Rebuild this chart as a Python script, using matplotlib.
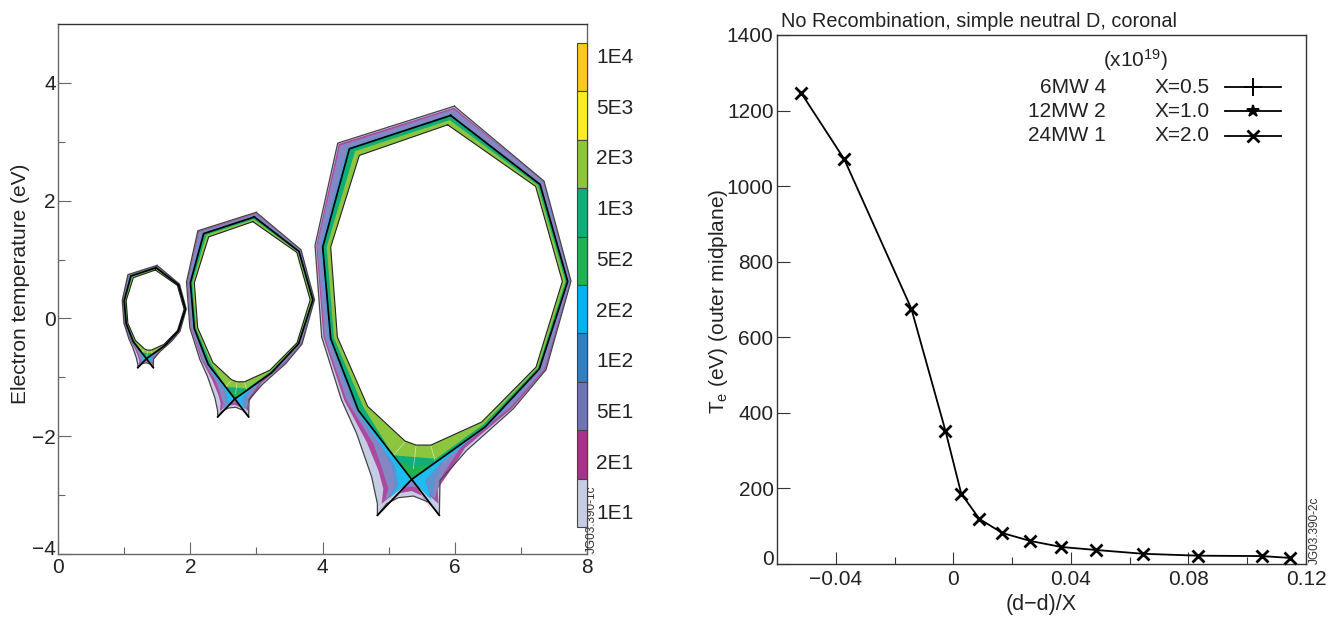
import numpy as np
import matplotlib
matplotlib.use('Agg')
import matplotlib.pyplot as plt
from matplotlib.transforms import ScaledTranslation

plt.rcParams['font.family'] = ['Liberation Sans', 'DejaVu Sans']
plt.rcParams['mathtext.default'] = 'regular'

# colour scale
levels = ['1E4', '5E3', '2E3', '1E3', '5E2', '2E2', '1E2', '5E1', '2E1', '1E1']
level_colors = ['#fdc91d', '#fcec21', '#8cc63f', '#10ad78', '#22b14f',
                '#00b5ec', '#2f80c2', '#6f74b8', '#a5328f', '#c6cce4']

# machine sizes, relative to the X=2 case
ring_sizes = [0.25, 0.5, 1.0]

# contours of the X=2 case (R, Z)
x_point = (5.349, -2.733)
leg_right = (5.767, -3.344)
leg_left = (4.830, -3.344)

c_outer = [(5.994, 3.605), (7.350, 2.332), (7.758, 0.634), (7.380, -0.871), (6.886, -1.533),
           (6.180, -2.241), (6.004, -2.467), (5.777, -2.750), leg_right, (5.601, -3.118),
           (5.374, -3.016), (5.147, -3.044), (4.971, -3.146), leg_left, (4.830, -3.146),
           (4.744, -2.693), (4.517, -1.958), (4.290, -1.392), (3.988, -0.316), (3.887, 1.240),
           (4.230, 2.977)]
c_purple = [(5.989, 3.580), (7.347, 2.330), (7.755, 0.634), (7.372, -0.868), (6.871, -1.522),
            (6.155, -2.201), (5.954, -2.552), (5.742, -2.891), (5.752, -3.146), x_point,
            (4.895, -3.146), (4.920, -2.891), (4.845, -2.580), (4.668, -2.099), (4.330, -1.392),
            (4.013, -0.316), (3.905, 1.240), (4.245, 2.962)]
c_slate = [(5.984, 3.553), (7.345, 2.328), (7.750, 0.634), (7.355, -0.860), (6.846, -1.505),
           (6.105, -2.167), (5.828, -2.637), (5.727, -2.919), (5.702, -3.060), x_point,
           (4.945, -3.090), (4.996, -2.891), (4.895, -2.524), (4.769, -2.127), (4.366, -1.392),
           (4.033, -0.316), (3.920, 1.240), (4.265, 2.935)]
c_blue = [(5.945, 3.470), (7.295, 2.285), (7.715, 0.629), (7.292, -0.858), (6.500, -1.844),
          (5.860, -2.325), (5.700, -2.750), (5.676, -3.033), x_point, (5.000, -3.061),
          (5.090, -2.863), (5.050, -2.524), (4.845, -2.099), (4.480, -1.500), (4.088, -0.328),
          (3.973, 1.228), (4.366, 2.895)]
c_cyan = [(5.940, 3.460), (7.292, 2.280), (7.711, 0.629), (7.285, -0.854), (6.470, -1.844),
          (5.777, -2.467), (5.550, -2.750), (5.651, -3.089), x_point, (5.021, -3.033),
          (5.147, -2.835), (5.097, -2.496), (4.550, -1.630), (4.104, -0.345), (3.985, 1.211),
          (4.385, 2.888)]
c_sep = [(5.939, 3.447), (7.290, 2.276), (7.708, 0.629), (7.280, -0.854), (6.458, -1.844),
         x_point, (4.542, -1.561), (4.124, -0.345), (4.003, 1.211), (4.406, 2.881)]
c_green = [x_point, (5.666, -2.478), (5.399, -2.523), (5.157, -2.456)]
c_teal = [(5.923, 3.368), (7.254, 2.264), (7.673, 0.629), (7.259, -0.837), (6.433, -1.799),
          (5.717, -2.382), (5.399, -2.354), (5.071, -2.325), (4.618, -1.505), (4.174, -0.328),
          (4.063, 1.211), (4.492, 2.841)]
c_inner = [(5.893, 3.288), (7.224, 2.241), (7.627, 0.629), (7.229, -0.826), (6.407, -1.759),
           (5.641, -2.150), (5.414, -2.150), (5.248, -2.082), (4.683, -1.493), (4.225, -0.316),
           (4.124, 1.211), (4.557, 2.768)]
c_private = [x_point, leg_right, (5.601, -3.118), (5.374, -3.016), (5.147, -3.044), (4.971, -3.146), leg_left]
c_private_purple = [x_point, (5.651, -3.259), (5.525, -3.021), (5.349, -2.931), (5.172, -2.965), (4.981, -3.174)]
c_private_slate = [x_point, (5.500, -2.891), (5.349, -2.852), (5.198, -2.874)]
mesh_lines = [[(5.414, -2.173), (5.374, -2.552)], [(5.641, -2.173), (5.702, -2.410)],
              [(5.248, -2.099), (5.071, -2.325)]]

# outer midplane profile
dd = [-0.0518, -0.0371, -0.0143, -0.0027, 0.0027, 0.0089, 0.0167, 0.0262,
      0.0368, 0.0487, 0.0647, 0.0834, 0.1049, 0.1147]
te = [1247, 1071, 676, 353, 186, 119, 82, 61, 45, 37, 27, 22, 21, 16]

legend_power = ['6MW 4', '12MW 2', '24MW 1']
legend_x = ['X=0.5', 'X=1.0', 'X=2.0']
legend_markers = ['+', '*', 'x']

W, H = 1337, 619
fig = plt.figure(figsize=(W / 100, H / 100), dpi=100)
ax1 = fig.add_axes([58 / W, (H - 554) / H, 529 / W, 530 / H])
ax2 = fig.add_axes([777 / W, (H - 564) / H, 529 / W, 529 / H])
TXT = '#222222'
SLATE = '#8487c3'


def fill_contour(ax, contour, size, color, z, **kw):
    pts = np.array(contour) * size
    ax.fill(pts[:, 0], pts[:, 1], color=color, zorder=z, **kw)


# left panel: the three rings
for size in ring_sizes:
    fill_contour(ax1, c_outer, size, level_colors[9], 2, lw=0)
    fill_contour(ax1, c_purple, size, '#ad4a9f', 3, lw=0)
    fill_contour(ax1, c_slate, size, SLATE, 4, lw=0)
    fill_contour(ax1, c_blue, size, '#5c93d0', 5, lw=0)
    fill_contour(ax1, c_cyan, size, '#1fbcf0', 6, lw=0)
    fill_contour(ax1, c_private, size, level_colors[9], 7, lw=0)
    fill_contour(ax1, c_private_purple, size, '#ad4a9f', 8, lw=0)
    fill_contour(ax1, c_private_slate, size, SLATE, 9, lw=0)
    fill_contour(ax1, c_sep, size, level_colors[3], 10, lw=0)
    fill_contour(ax1, c_green, size, level_colors[4], 11, lw=0)
    fill_contour(ax1, c_teal, size, level_colors[2], 12, lw=0)
    for line in mesh_lines:
        seg = np.array(line) * size
        ax1.plot(seg[:, 0], seg[:, 1], color='white', lw=0.5, alpha=0.6, zorder=12.5)
    fill_contour(ax1, c_inner, size, 'white', 13, lw=0)
    # edges of the grid
    inner = np.array(c_inner + [c_inner[0]]) * size
    ax1.plot(inner[:, 0], inner[:, 1], color='#222222', lw=0.8, zorder=14)
    outer = np.array(c_outer + [c_outer[0]]) * size
    ax1.plot(outer[:, 0], outer[:, 1], color='#444444', lw=0.9, zorder=14)
    # separatrix and legs
    sep = np.array(c_sep + [c_sep[0]]) * size
    ax1.plot(sep[:, 0], sep[:, 1], color='black', lw=1.25, zorder=15)
    for leg in (leg_left, leg_right):
        seg = np.array([x_point, leg]) * size
        ax1.plot(seg[:, 0], seg[:, 1], color='black', lw=1.25, zorder=15)

ax1.set_xlim(0, 8)
ax1.set_ylim(-4, 5)
ax1.set_xticks([0, 2, 4, 6, 8])
ax1.set_xticks([1, 3, 5, 7], minor=True)
ax1.set_yticks([-4, -2, 0, 2, 4])
ax1.set_yticks([-3, -1, 1, 3], minor=True)
ax1.set_ylabel('Electron temperature (eV)', fontsize=15, color=TXT)
ax1.yaxis.set_label_coords(-0.052, 0.51)

# colour bar along the right side of the left panel
cax = fig.add_axes([577 / W, (H - 527) / H, 10 / W, 484 / H])
for i, col in enumerate(level_colors):
    cax.bar(0, 1, bottom=len(levels) - 1 - i, width=1, color=col, ec='#444444', lw=0.8, clip_on=False)
cax.set_xlim(-0.5, 0.5)
cax.set_ylim(0, len(levels))
cax.axis('off')
for i, lab in enumerate(levels):
    ax1.text(8.14, 4.43 - i * 0.861, lab, fontsize=15, va='center', ha='left', color=TXT, clip_on=False)
ax1.text(8.07, -3.98, 'JG03.390-1c', rotation=90, fontsize=8.5, va='bottom', ha='center',
         color='#333333', clip_on=False)

# right panel
ax2.plot(dd, te, color='black', lw=1.3, marker='x', ms=9, mew=2, clip_on=False, zorder=5)
ax2.set_xlim(-0.06, 0.12)
ax2.set_ylim(0, 1400)
ax2.set_xticks([-0.04, 0, 0.04, 0.08, 0.12])
ax2.set_xticklabels(['\u22120.04', '0', '0.04', '0.08', '0.12'])
ax2.set_xticks([-0.02, 0.02, 0.06, 0.10], minor=True)
ax2.set_yticks(np.arange(0, 1401, 200))
ax2.set_xlabel('(d\u2212d)/X', fontsize=15.5, labelpad=3.5, color=TXT)
ax2.set_ylabel('T$_e$ (eV) (outer midplane)', fontsize=15, color=TXT)
ax2.yaxis.set_label_coords(-0.089, 0.496)
ax2.text(0.007, 1.015, 'No Recombination, simple neutral D, coronal', transform=ax2.transAxes,
         fontsize=14.3, color=TXT, va='baseline')

# hand-placed legend as in the original
tr = ax2.transAxes
ax2.text(0.677, 0.953, '(x10$^{19}$)', transform=tr, fontsize=15, ha='center', va='center', color=TXT)
for i in range(3):
    yy = 0.901 - i * 0.0455
    ax2.text(0.622, yy, legend_power[i], transform=tr, fontsize=15, ha='right', va='center', color=TXT)
    ax2.text(0.713, yy, legend_x[i], transform=tr, fontsize=15, ha='left', va='center', color=TXT)
    ax2.plot([0.847, 0.953], [yy, yy], transform=tr, color='black', lw=1.3)
    ax2.plot([0.9], [yy], transform=tr, color='black', marker=legend_markers[i],
             ms=13 if i == 0 else 9, mew=2 if i == 2 else 1.4, ls='none')
ax2.text(1.0165, 0.0, 'JG03.390-2c', transform=tr, rotation=90, fontsize=8.5, va='bottom', ha='center',
         color='#333333')

for ax, ypad, xpad, col in ((ax1, 1.5, 3, '#666666'), (ax2, 2.5, 4.5, '#333333')):
    for s in ax.spines.values():
        s.set_linewidth(1.0)
        s.set_color(col)
    ax.spines['top'].set_color('#333333')
    ax.tick_params(which='major', direction='in', length=9, width=0.8, labelsize=15,
                   labelcolor=TXT, color=col)
    ax.tick_params(which='minor', direction='in', length=5, width=0.8, color=col)
    ax.tick_params(axis='y', which='major', pad=ypad)
    ax.tick_params(axis='x', which='major', pad=xpad)

# the lowest y label sits a little above the corner
fig.canvas.draw()
for ax in (ax1, ax2):
    lab = ax.yaxis.get_major_ticks()[0].label1
    lab.set_transform(lab.get_transform() + ScaledTranslation(0, 5 / 72, fig.dpi_scale_trans))

fig.savefig('out.png', dpi=100)
